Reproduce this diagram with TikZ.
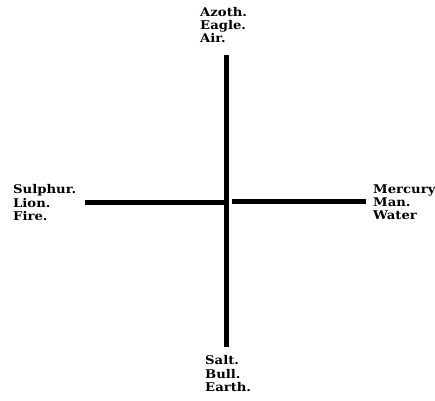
\documentclass[tikz,border=0pt]{standalone}
\usepackage{fontspec}
\setmainfont{DejaVu Serif}[BoldFont={DejaVu Serif Bold},FakeStretch=1.1]
\begin{document}
\begin{tikzpicture}[x=1pt,y=-1pt,
  lbl/.style={anchor=north west,align=left,inner sep=0pt,font=\fontsize{12}{13.2}\selectfont\bfseries},
  bar/.style={line width=5pt,black}]
\useasboundingbox (0,0) rectangle (435,400);
\coordinate (vt) at (226,55);
\coordinate (vb) at (226,347);
\coordinate (ll) at (85,202);
\coordinate (lr) at (226,202);
\coordinate (rl) at (232,201);
\coordinate (rr) at (366,201);
\draw[bar] (vt) -- (vb);
\draw[bar] (ll) -- (lr);
\draw[bar] (rl) -- (rr);
\node[lbl] (top) at (200,7) {Azoth.\\Eagle.\\Air.};
\node[lbl] (left) at (13,184.5) {Sulphur.\\Lion.\\Fire.};
\node[lbl] (right) at (373,184.5) {Mercury\\Man.\\Water};
\node[lbl] (bot) at (205,355.5) {Salt.\\Bull.\\Earth.};
\end{tikzpicture}
\end{document}
